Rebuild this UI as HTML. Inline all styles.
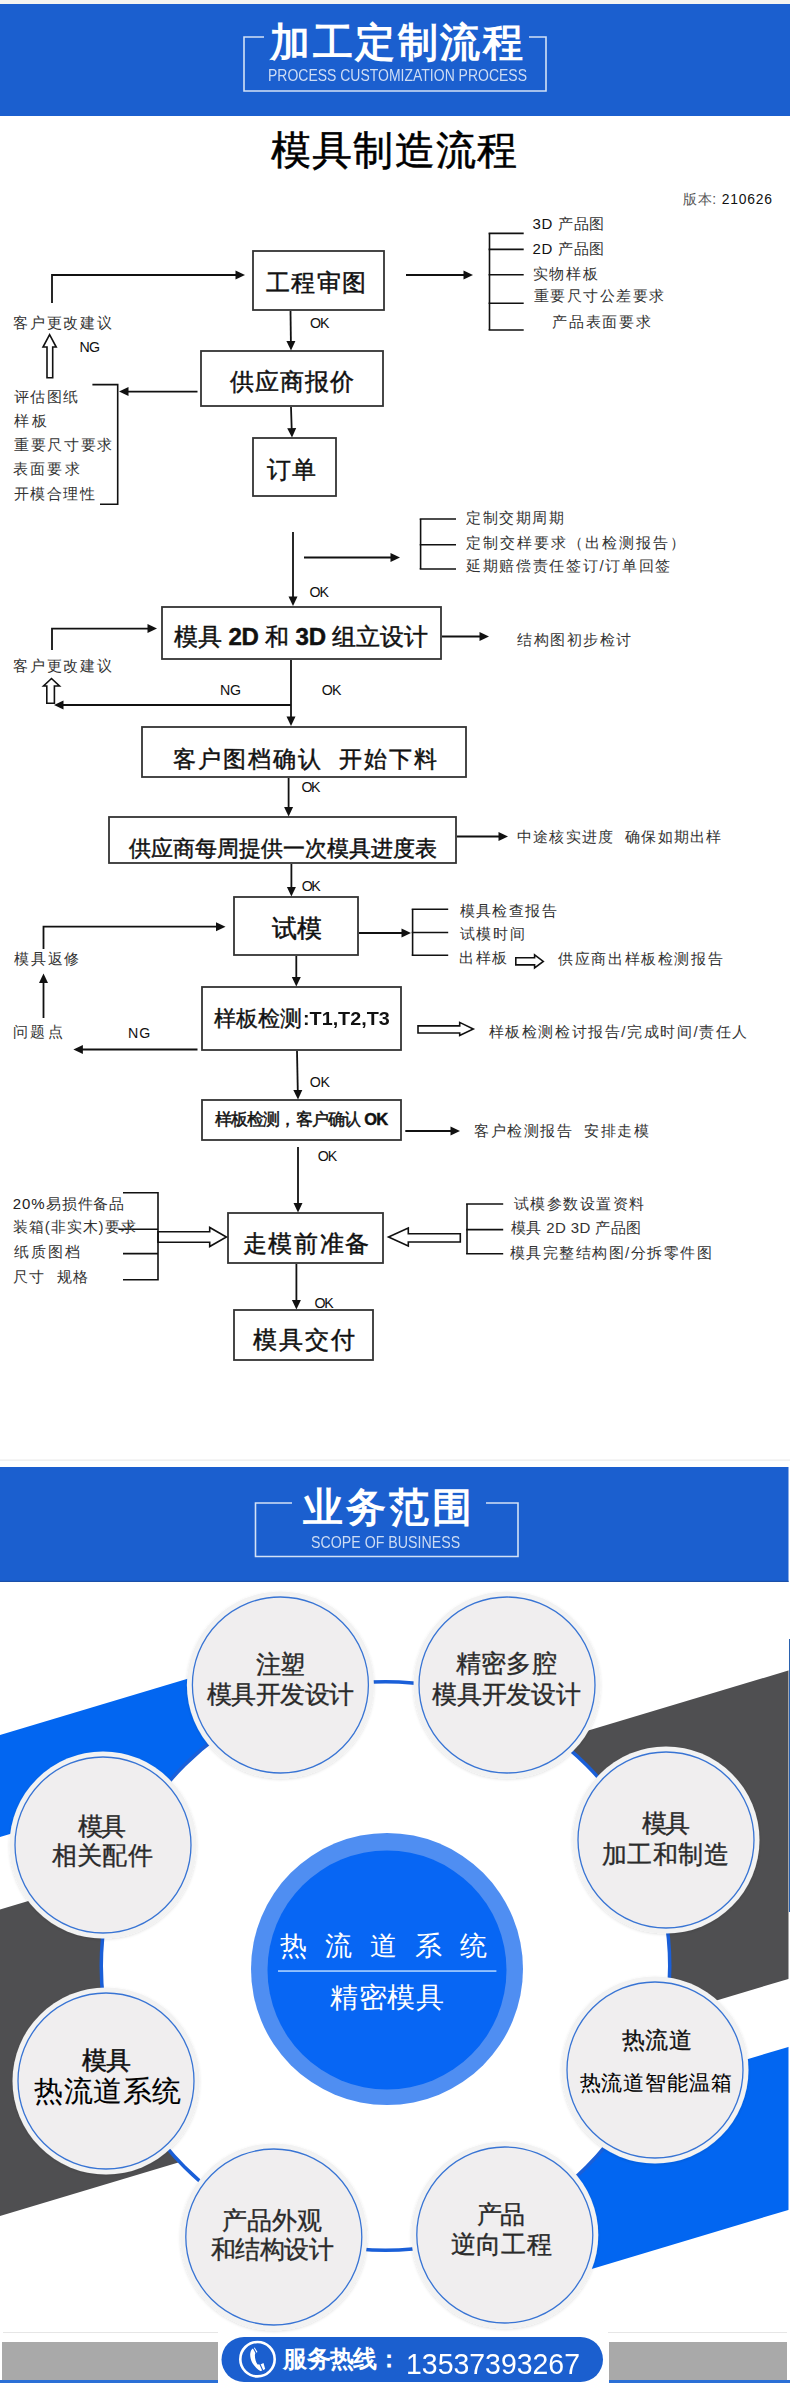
<!DOCTYPE html>
<html><head><meta charset="utf-8">
<style>
*{margin:0;padding:0;box-sizing:border-box}
html,body{width:790px;height:2383px;overflow:hidden;background:#fff}
body{position:relative;font-family:"Liberation Sans",sans-serif;color:#222}
.t{position:absolute;white-space:nowrap;line-height:1}
svg{position:absolute;left:0;top:0}
</style></head><body>
<svg width="790" height="2383" viewBox="0 0 790 2383">
<defs><filter id="sh" x="-20%" y="-20%" width="140%" height="140%"><feDropShadow dx="0" dy="1" stdDeviation="1.5" flood-color="#000" flood-opacity="0.12"/></filter></defs><rect x="0" y="0" width="790" height="4" fill="#f4f4f1"/>
<rect x="0" y="4" width="790" height="112" fill="#1b5fcf"/>
<path d="M264 37H244V91H546V37H529" fill="none" stroke="#d3e1f6" stroke-width="1.6"/>
<rect x="0" y="1459.5" width="790" height="1.2" fill="#ececec"/>
<rect x="0" y="1467" width="788.5" height="115" fill="#1b5fcf"/>
<path d="M292 1503H255.5V1556.5H518V1503H486" fill="none" stroke="#d3e1f6" stroke-width="1.6"/>
<rect x="253" y="251" width="131" height="59" fill="none" stroke="#333" stroke-width="1.8"/>
<rect x="201" y="351" width="182" height="55" fill="none" stroke="#333" stroke-width="1.8"/>
<rect x="253" y="438" width="83" height="58" fill="none" stroke="#333" stroke-width="1.8"/>
<rect x="162" y="607" width="279" height="52" fill="none" stroke="#333" stroke-width="1.8"/>
<rect x="142" y="727" width="324" height="50" fill="none" stroke="#333" stroke-width="1.8"/>
<rect x="109" y="817" width="347" height="46" fill="none" stroke="#333" stroke-width="1.8"/>
<rect x="234" y="897" width="124" height="58" fill="none" stroke="#333" stroke-width="1.8"/>
<rect x="202" y="987" width="199" height="63" fill="none" stroke="#333" stroke-width="1.8"/>
<rect x="202" y="1100" width="199" height="40" fill="none" stroke="#333" stroke-width="1.8"/>
<rect x="228" y="1213" width="155" height="50" fill="none" stroke="#333" stroke-width="1.8"/>
<rect x="234" y="1310" width="139" height="50" fill="none" stroke="#333" stroke-width="1.8"/>
<path d="M290.5 311.0 L290.9 342.0" fill="none" stroke="#111" stroke-width="1.8" stroke-linejoin="miter"/>
<path d="M291.0 350.5 L286.4 341.1 L295.4 340.9Z" fill="#111"/>
<path d="M291.0 407.0 L291.7 429.0" fill="none" stroke="#111" stroke-width="1.8" stroke-linejoin="miter"/>
<path d="M292.0 437.5 L287.2 428.2 L296.2 427.9Z" fill="#111"/>
<path d="M293.0 532.0 L293.0 597.5" fill="none" stroke="#111" stroke-width="1.8" stroke-linejoin="miter"/>
<path d="M293.0 606.0 L288.5 596.5 L297.5 596.5Z" fill="#111"/>
<path d="M304.0 557.5 L391.5 557.5" fill="none" stroke="#111" stroke-width="1.8" stroke-linejoin="miter"/>
<path d="M400.0 557.5 L390.5 562.0 L390.5 553.0Z" fill="#111"/>
<path d="M442.0 636.5 L480.5 636.5" fill="none" stroke="#111" stroke-width="1.8" stroke-linejoin="miter"/>
<path d="M489.0 636.5 L479.5 641.0 L479.5 632.0Z" fill="#111"/>
<path d="M291.0 660.0 L291.0 717.5" fill="none" stroke="#111" stroke-width="1.8" stroke-linejoin="miter"/>
<path d="M291.0 726.0 L286.5 716.5 L295.5 716.5Z" fill="#111"/>
<path d="M291.0 705.0 L62.5 705.0" fill="none" stroke="#111" stroke-width="1.8" stroke-linejoin="miter"/>
<path d="M54.0 705.0 L63.5 700.5 L63.5 709.5Z" fill="#111"/>
<path d="M288.6 778.0 L288.6 808.0" fill="none" stroke="#111" stroke-width="1.8" stroke-linejoin="miter"/>
<path d="M288.6 816.5 L284.1 807.0 L293.1 807.0Z" fill="#111"/>
<path d="M457.0 836.5 L499.5 836.5" fill="none" stroke="#111" stroke-width="1.8" stroke-linejoin="miter"/>
<path d="M508.0 836.5 L498.5 841.0 L498.5 832.0Z" fill="#111"/>
<path d="M291.4 864.0 L291.4 888.0" fill="none" stroke="#111" stroke-width="1.8" stroke-linejoin="miter"/>
<path d="M291.4 896.5 L286.9 887.0 L295.9 887.0Z" fill="#111"/>
<path d="M359.0 933.0 L402.5 933.0" fill="none" stroke="#111" stroke-width="1.8" stroke-linejoin="miter"/>
<path d="M411.0 933.0 L401.5 937.5 L401.5 928.5Z" fill="#111"/>
<path d="M296.3 956.0 L296.3 978.0" fill="none" stroke="#111" stroke-width="1.8" stroke-linejoin="miter"/>
<path d="M296.3 986.5 L291.8 977.0 L300.8 977.0Z" fill="#111"/>
<path d="M297.0 1051.0 L297.8 1091.0" fill="none" stroke="#111" stroke-width="1.8" stroke-linejoin="miter"/>
<path d="M298.0 1099.5 L293.3 1090.1 L302.3 1089.9Z" fill="#111"/>
<path d="M405.3 1131.0 L451.5 1131.0" fill="none" stroke="#111" stroke-width="1.8" stroke-linejoin="miter"/>
<path d="M460.0 1131.0 L450.5 1135.5 L450.5 1126.5Z" fill="#111"/>
<path d="M298.0 1147.0 L298.0 1204.0" fill="none" stroke="#111" stroke-width="1.8" stroke-linejoin="miter"/>
<path d="M298.0 1212.5 L293.5 1203.0 L302.5 1203.0Z" fill="#111"/>
<path d="M296.4 1264.0 L296.4 1301.0" fill="none" stroke="#111" stroke-width="1.8" stroke-linejoin="miter"/>
<path d="M296.4 1309.5 L291.9 1300.0 L300.9 1300.0Z" fill="#111"/>
<path d="M197.5 391.6 L127.5 391.6" fill="none" stroke="#111" stroke-width="1.8" stroke-linejoin="miter"/>
<path d="M119.0 391.6 L128.5 387.1 L128.5 396.1Z" fill="#111"/>
<path d="M406.0 275.0 L464.5 275.0" fill="none" stroke="#111" stroke-width="1.8" stroke-linejoin="miter"/>
<path d="M473.0 275.0 L463.5 279.5 L463.5 270.5Z" fill="#111"/>
<path d="M52.0 303.0 L52.0 275.0 L236.5 275.0" fill="none" stroke="#111" stroke-width="1.8" stroke-linejoin="miter"/>
<path d="M245.0 275.0 L235.5 279.5 L235.5 270.5Z" fill="#111"/>
<path d="M52.0 650.0 L52.0 628.6 L148.5 628.6" fill="none" stroke="#111" stroke-width="1.8" stroke-linejoin="miter"/>
<path d="M157.0 628.6 L147.5 633.1 L147.5 624.1Z" fill="#111"/>
<path d="M43.5 949.0 L43.5 926.7 L217.0 926.7" fill="none" stroke="#111" stroke-width="1.8" stroke-linejoin="miter"/>
<path d="M225.5 926.7 L216.0 931.2 L216.0 922.2Z" fill="#111"/>
<path d="M43.5 1018.0 L43.5 982.0" fill="none" stroke="#111" stroke-width="1.8" stroke-linejoin="miter"/>
<path d="M43.5 973.5 L48.0 983.0 L39.0 983.0Z" fill="#111"/>
<path d="M197.5 1049.5 L81.9 1049.5" fill="none" stroke="#111" stroke-width="1.8" stroke-linejoin="miter"/>
<path d="M73.4 1049.5 L82.9 1045.0 L82.9 1054.0Z" fill="#111"/>
<path d="M47 377.7 L47 347 L43 347 L49.6 334.7 L56.2 347 L52.7 347 L52.7 377.7Z" fill="#fff" stroke="#111" stroke-width="1.6" stroke-linejoin="miter"/>
<path d="M46.8 703.3 L46.8 686 L43.5 686 L51.5 678.5 L59.5 686 L54.4 686 L54.4 703.3Z" fill="#fff" stroke="#111" stroke-width="1.6" stroke-linejoin="miter"/>
<path d="M515.8 957.8 L534.6 957.8 L534.6 954.8 L543.3 961.4 L534.6 968 L534.6 964.9 L515.8 964.9Z" fill="#fff" stroke="#111" stroke-width="1.6" stroke-linejoin="miter"/>
<path d="M418 1025.9 L459.7 1025.9 L459.7 1022.4 L473.3 1028.95 L459.7 1035.5 L459.7 1033 L418 1033Z" fill="#fff" stroke="#111" stroke-width="1.6" stroke-linejoin="miter"/>
<path d="M158 1231.7 L209.7 1231.7 L209.7 1227.5 L226.4 1237.0 L209.7 1246.5 L209.7 1242.3 L158 1242.3Z" fill="#fff" stroke="#111" stroke-width="1.6" stroke-linejoin="miter"/>
<path d="M460.3 1233.8 L408.3 1233.8 L408.3 1228 L388.5 1237.0 L408.3 1246 L408.3 1242 L460.3 1242Z" fill="#fff" stroke="#111" stroke-width="1.6" stroke-linejoin="miter"/>
<path d="M489.5 233.4 L489.5 330.0" fill="none" stroke="#111" stroke-width="1.6" stroke-linejoin="miter"/>
<path d="M488.6 233.4 L523.7 233.4" fill="none" stroke="#111" stroke-width="1.6" stroke-linejoin="miter"/>
<path d="M488.6 249.4 L523.7 249.4" fill="none" stroke="#111" stroke-width="1.6" stroke-linejoin="miter"/>
<path d="M488.6 274.8 L523.7 274.8" fill="none" stroke="#111" stroke-width="1.6" stroke-linejoin="miter"/>
<path d="M488.6 303.3 L523.7 303.3" fill="none" stroke="#111" stroke-width="1.6" stroke-linejoin="miter"/>
<path d="M488.6 330.0 L523.7 330.0" fill="none" stroke="#111" stroke-width="1.6" stroke-linejoin="miter"/>
<path d="M92.4 384.6 L117.7 384.6 L117.7 504.3 L100.0 504.3" fill="none" stroke="#111" stroke-width="1.6" stroke-linejoin="miter"/>
<path d="M420.6 519.0 L420.6 569.0" fill="none" stroke="#111" stroke-width="1.6" stroke-linejoin="miter"/>
<path d="M419.7 519.0 L456.0 519.0" fill="none" stroke="#111" stroke-width="1.6" stroke-linejoin="miter"/>
<path d="M419.7 544.8 L456.0 544.8" fill="none" stroke="#111" stroke-width="1.6" stroke-linejoin="miter"/>
<path d="M419.7 569.0 L456.0 569.0" fill="none" stroke="#111" stroke-width="1.6" stroke-linejoin="miter"/>
<path d="M412.6 909.2 L412.6 955.2" fill="none" stroke="#111" stroke-width="1.6" stroke-linejoin="miter"/>
<path d="M411.7 909.2 L448.2 909.2" fill="none" stroke="#111" stroke-width="1.6" stroke-linejoin="miter"/>
<path d="M411.7 932.5 L448.2 932.5" fill="none" stroke="#111" stroke-width="1.6" stroke-linejoin="miter"/>
<path d="M411.7 955.2 L448.2 955.2" fill="none" stroke="#111" stroke-width="1.6" stroke-linejoin="miter"/>
<path d="M467.0 1204.0 L467.0 1253.7" fill="none" stroke="#111" stroke-width="1.6" stroke-linejoin="miter"/>
<path d="M466.1 1204.0 L503.2 1204.0" fill="none" stroke="#111" stroke-width="1.6" stroke-linejoin="miter"/>
<path d="M466.1 1229.6 L503.2 1229.6" fill="none" stroke="#111" stroke-width="1.6" stroke-linejoin="miter"/>
<path d="M466.1 1253.7 L503.2 1253.7" fill="none" stroke="#111" stroke-width="1.6" stroke-linejoin="miter"/>
<path d="M123.0 1192.8 L158.0 1192.8 L158.0 1279.7 L123.0 1279.7" fill="none" stroke="#111" stroke-width="1.6" stroke-linejoin="miter"/>
<path d="M118.5 1229.2 L158.0 1229.2" fill="none" stroke="#111" stroke-width="1.6" stroke-linejoin="miter"/>
<path d="M123.0 1253.6 L158.0 1253.6" fill="none" stroke="#111" stroke-width="1.6" stroke-linejoin="miter"/>
<path d="M0 1735.0 L330 1636.0 L330 1738.0 L0 1837.0Z" fill="#0266f1"/>
<path d="M520 1751.0 L790 1670.0 L790 1978.4 L520 2059.4Z" fill="#4f4f51"/>
<path d="M0 1909.5 L200 1849.5 L200 2156.0 L0 2216.0Z" fill="#4f4f51"/>
<path d="M560 2115.4 L790 2046.4 L790 2209.4 L560 2278.4Z" fill="#0266f1"/>
<circle cx="385.5" cy="1966" r="284.25" fill="#fff" stroke="#1a5fd8" stroke-width="3.5"/>
<circle cx="387" cy="1969" r="136" fill="#4f8ef2"/>
<circle cx="387" cy="1970" r="119.5" fill="#0766f4"/>
<rect x="278" y="1970.3" width="218.4" height="1.5" fill="#b5d8ff"/>
<circle cx="280.4" cy="1685" r="93.5" fill="#f2f2f2" filter="url(#sh)"/>
<circle cx="280.4" cy="1685" r="88" fill="#f0eeef" stroke="#3874d4" stroke-width="1.3"/>
<circle cx="507" cy="1685" r="93.5" fill="#f2f2f2" filter="url(#sh)"/>
<circle cx="507" cy="1685" r="88" fill="#f0eeef" stroke="#3874d4" stroke-width="1.3"/>
<circle cx="666" cy="1840" r="93.5" fill="#f2f2f2" filter="url(#sh)"/>
<circle cx="666" cy="1840" r="88" fill="#f0eeef" stroke="#3874d4" stroke-width="1.3"/>
<circle cx="655" cy="2070" r="93.5" fill="#f2f2f2" filter="url(#sh)"/>
<circle cx="655" cy="2070" r="88" fill="#f0eeef" stroke="#3874d4" stroke-width="1.3"/>
<circle cx="504.8" cy="2235" r="93.5" fill="#f2f2f2" filter="url(#sh)"/>
<circle cx="504.8" cy="2235" r="88" fill="#f0eeef" stroke="#3874d4" stroke-width="1.3"/>
<circle cx="273.8" cy="2237" r="93.5" fill="#f2f2f2" filter="url(#sh)"/>
<circle cx="273.8" cy="2237" r="88" fill="#f0eeef" stroke="#3874d4" stroke-width="1.3"/>
<circle cx="106" cy="2081" r="93.5" fill="#f2f2f2" filter="url(#sh)"/>
<circle cx="106" cy="2081" r="88" fill="#f0eeef" stroke="#3874d4" stroke-width="1.3"/>
<circle cx="103" cy="1845" r="93.5" fill="#f2f2f2" filter="url(#sh)"/>
<circle cx="103" cy="1845" r="88" fill="#f0eeef" stroke="#3874d4" stroke-width="1.3"/>
<rect x="788.5" y="1582" width="1.5" height="750" fill="#fff"/>
<rect x="789" y="1639" width="1" height="273" fill="#2a62b0"/>
<rect x="0" y="1580.8" width="788.5" height="1.2" fill="#1a50aa"/>
<rect x="3" y="2332" width="215" height="1" fill="#e6e6e6"/>
<rect x="608" y="2332" width="179" height="1" fill="#e6e6e6"/>
<rect x="2" y="2342" width="216" height="38" fill="#a9a9a9"/>
<rect x="609" y="2342" width="178" height="38" fill="#a9a9a9"/>
<rect x="0" y="2380" width="218" height="3" fill="#2a6fd6"/>
<rect x="609" y="2380" width="181" height="3" fill="#2a6fd6"/>
<rect x="221.5" y="2337" width="381.5" height="45" rx="22.5" fill="#1b5fcf"/>
<circle cx="257.5" cy="2359.2" r="17.2" fill="none" stroke="#fff" stroke-width="2.6"/>
<g transform="translate(257.5 2359.2)"><path d="M-2.85 -11.66 L0 -7.1 L-2.3 -5.7 C-3.2 -3 -2 2.5 0.1 5.3 L3.4 5.1 L6 3.7 L7.7 9.7 L5.4 11.1 L3.1 11.7 C1 11.6 -3.5 6.5 -5.4 3.4 C-7 0 -7.6 -3.4 -7.2 -6 C-6.9 -8 -6 -9.6 -5.42 -10.24 Z" fill="#fff"/><path d="M-4.6 -12 L-1.1 -5.4 M2.3 4.6 L5.4 11.6" stroke="#1b5fcf" stroke-width="1.1"/></g>
</svg>
<div class="t" style="left:270px;top:21.5px;font-size:40px;letter-spacing:2.6px;color:#fff;font-weight:bold">加工定制流程</div>
<div class="t" style="left:267.7px;top:67.6px;font-size:16.71px;letter-spacing:0px;color:#cddcf4;transform:scaleX(0.838);transform-origin:0 0">PROCESS CUSTOMIZATION PROCESS</div>
<div class="t" style="left:303.4px;top:1487.2px;font-size:40px;letter-spacing:2.87px;color:#fff;font-weight:bold">业务范围</div>
<div class="t" style="left:311.1px;top:1534.8px;font-size:15.86px;letter-spacing:0px;color:#cddcf4;transform:scaleX(0.8952);transform-origin:0 0">SCOPE OF BUSINESS</div>
<div class="t" style="left:271px;top:129.5px;font-size:40px;letter-spacing:1.2px;color:#000;-webkit-text-stroke:0.5px #000">模具制造流程</div>
<div class="t" style="left:682.7px;top:192.9px;font-size:13.89px;letter-spacing:0.82px;color:#555">版本: <span style='color:#111'>210626</span></div>
<div class="t" style="left:266px;top:271.0px;font-size:24px;letter-spacing:1.3px;color:#111;-webkit-text-stroke:0.45px #111">工程审图</div>
<div class="t" style="left:230px;top:370.1px;font-size:24px;letter-spacing:1.1px;color:#111;-webkit-text-stroke:0.45px #111">供应商报价</div>
<div class="t" style="left:267px;top:458.0px;font-size:24px;letter-spacing:0.6px;color:#111;-webkit-text-stroke:0.45px #111">订单</div>
<div class="t" style="left:174.4px;top:624.5px;font-size:24px;letter-spacing:-0.2px;color:#111;-webkit-text-stroke:0.45px #111">模具 <b>2D</b> 和 <b>3D</b> 组立设计</div>
<div class="t" style="left:173.4px;top:747.8px;font-size:23px;letter-spacing:1.86px;color:#111;-webkit-text-stroke:0.45px #111">客户图档确认&nbsp;&nbsp;开始下料</div>
<div class="t" style="left:129px;top:837.6px;font-size:22px;letter-spacing:0.01px;color:#111;-webkit-text-stroke:0.45px #111">供应商每周提供一次模具进度表</div>
<div class="t" style="left:272.4px;top:917.0px;font-size:24.5px;letter-spacing:0.03px;color:#111;-webkit-text-stroke:0.5px #111">试模</div>
<div class="t" style="left:214.1px;top:1008.6px;font-size:21.5px;letter-spacing:-0.04px;color:#111;-webkit-text-stroke:0.35px #111">样板检测</div>
<div class="t" style="left:302.7px;top:1009.1px;font-size:19px;letter-spacing:0px;color:#111;transform:scaleX(1.0395);transform-origin:0 0"><b>:T1,T2,T3</b></div>
<div class="t" style="left:214.7px;top:1111.2px;font-size:16.5px;letter-spacing:-0.81px;color:#111;-webkit-text-stroke:0.45px #111">样板检测，客户确认 <b>OK</b></div>
<div class="t" style="left:242.7px;top:1232.2px;font-size:24px;letter-spacing:1.69px;color:#111;-webkit-text-stroke:0.45px #111">走模前准备</div>
<div class="t" style="left:253px;top:1328.4px;font-size:24px;letter-spacing:1.87px;color:#111;-webkit-text-stroke:0.45px #111">模具交付</div>
<div class="t" style="left:13px;top:314.5px;font-size:15px;letter-spacing:1.79px;color:#333">客户更改建议</div>
<div class="t" style="left:79.5px;top:340.4px;font-size:14.2px;letter-spacing:-0.67px;color:#111">NG</div>
<div class="t" style="left:310px;top:316.0px;font-size:14.2px;letter-spacing:-1.12px;color:#111">OK</div>
<div class="t" style="left:14px;top:388.7px;font-size:15px;letter-spacing:1.41px;color:#333">评估图纸</div>
<div class="t" style="left:14px;top:412.7px;font-size:15px;letter-spacing:2.75px;color:#333">样板</div>
<div class="t" style="left:14px;top:436.8px;font-size:15px;letter-spacing:1.67px;color:#333">重要尺寸要求</div>
<div class="t" style="left:13px;top:461.1px;font-size:15px;letter-spacing:2.22px;color:#333">表面要求</div>
<div class="t" style="left:14px;top:485.6px;font-size:15px;letter-spacing:1.44px;color:#333">开模合理性</div>
<div class="t" style="left:532.6px;top:215.7px;font-size:15px;letter-spacing:0.64px;color:#333"><span style='color:#111'>3D</span> 产品图</div>
<div class="t" style="left:532.6px;top:240.5px;font-size:15px;letter-spacing:0.64px;color:#333"><span style='color:#111'>2D</span> 产品图</div>
<div class="t" style="left:532.6px;top:265.8px;font-size:15px;letter-spacing:1.89px;color:#333">实物样板</div>
<div class="t" style="left:533.6px;top:288.4px;font-size:15px;letter-spacing:1.55px;color:#333">重要尺寸公差要求</div>
<div class="t" style="left:552.3px;top:313.5px;font-size:15px;letter-spacing:1.72px;color:#333">产品表面要求</div>
<div class="t" style="left:466px;top:509.7px;font-size:15px;letter-spacing:1.5px;color:#333">定制交期周期</div>
<div class="t" style="left:466px;top:534.8px;font-size:15px;letter-spacing:2.01px;color:#333">定制交样要求（出检测报告）</div>
<div class="t" style="left:466px;top:558.1px;font-size:15px;letter-spacing:1.68px;color:#333">延期赔偿责任签订/订单回签</div>
<div class="t" style="left:309.5px;top:585.0px;font-size:14.2px;letter-spacing:-0.93px;color:#111">OK</div>
<div class="t" style="left:517.3px;top:632.4px;font-size:15px;letter-spacing:1.51px;color:#333">结构图初步检讨</div>
<div class="t" style="left:13px;top:657.9px;font-size:15px;letter-spacing:1.79px;color:#333">客户更改建议</div>
<div class="t" style="left:220px;top:683.4px;font-size:14.2px;letter-spacing:-0.17px;color:#111">NG</div>
<div class="t" style="left:321.8px;top:683.4px;font-size:14.2px;letter-spacing:-0.73px;color:#111">OK</div>
<div class="t" style="left:301.5px;top:780.4px;font-size:14.2px;letter-spacing:-1.52px;color:#111">OK</div>
<div class="t" style="left:516.9px;top:829.0px;font-size:15px;letter-spacing:1.24px;color:#333">中途核实进度&nbsp;&nbsp;确保如期出样</div>
<div class="t" style="left:301.8px;top:878.5px;font-size:14.2px;letter-spacing:-1.6px;color:#111">OK</div>
<div class="t" style="left:14px;top:951.0px;font-size:15px;letter-spacing:1.75px;color:#333">模具返修</div>
<div class="t" style="left:13px;top:1024.4px;font-size:15px;letter-spacing:2.44px;color:#333">问题点</div>
<div class="t" style="left:128px;top:1026.0px;font-size:14.2px;letter-spacing:1.03px;color:#111">NG</div>
<div class="t" style="left:459.7px;top:902.8px;font-size:15px;letter-spacing:1.39px;color:#333">模具检查报告</div>
<div class="t" style="left:459.7px;top:925.5px;font-size:15px;letter-spacing:1.8px;color:#333">试模时间</div>
<div class="t" style="left:458.7px;top:949.8px;font-size:15px;letter-spacing:1.84px;color:#333">出样板</div>
<div class="t" style="left:558.3px;top:950.9px;font-size:15px;letter-spacing:1.58px;color:#333">供应商出样板检测报告</div>
<div class="t" style="left:488.7px;top:1023.6px;font-size:15px;letter-spacing:1.58px;color:#333">样板检测检讨报告/完成时间/责任人</div>
<div class="t" style="left:309.8px;top:1074.8px;font-size:14.2px;letter-spacing:-0.33px;color:#111">OK</div>
<div class="t" style="left:474.3px;top:1122.6px;font-size:15px;letter-spacing:1.45px;color:#333">客户检测报告&nbsp;&nbsp;安排走模</div>
<div class="t" style="left:317.7px;top:1148.5px;font-size:14.2px;letter-spacing:-0.93px;color:#111">OK</div>
<div class="t" style="left:12.7px;top:1196.2px;font-size:15px;letter-spacing:0.96px;color:#333"><span style='color:#222'>20%</span>易损件备品</div>
<div class="t" style="left:12.7px;top:1219.3px;font-size:15px;letter-spacing:0.98px;color:#333">装箱(非实木)要求</div>
<div class="t" style="left:13.7px;top:1244.2px;font-size:15px;letter-spacing:2.01px;color:#333">纸质图档</div>
<div class="t" style="left:12.7px;top:1268.5px;font-size:15px;letter-spacing:1.39px;color:#333">尺寸&nbsp;&nbsp;规格</div>
<div class="t" style="left:314.5px;top:1295.6px;font-size:14.2px;letter-spacing:-1.22px;color:#111">OK</div>
<div class="t" style="left:513.8px;top:1195.5px;font-size:15px;letter-spacing:1.52px;color:#333">试模参数设置资料</div>
<div class="t" style="left:511px;top:1220.4px;font-size:15px;letter-spacing:0.38px;color:#333">模具 2D 3D 产品图</div>
<div class="t" style="left:509.6px;top:1245.2px;font-size:15px;letter-spacing:1.5px;color:#333">模具完整结构图/分拆零件图</div>
<div class="t" style="left:256px;top:1653.0px;font-size:24.5px;letter-spacing:-1.16px;color:#2a2a2a;-webkit-text-stroke:0.35px #2a2a2a">注塑</div>
<div class="t" style="left:206.6px;top:1683.3px;font-size:24.5px;letter-spacing:-0.42px;color:#2a2a2a;-webkit-text-stroke:0.35px #2a2a2a">模具开发设计</div>
<div class="t" style="left:456px;top:1651.8px;font-size:24.5px;letter-spacing:0.24px;color:#2a2a2a;-webkit-text-stroke:0.35px #2a2a2a">精密多腔</div>
<div class="t" style="left:431.6px;top:1682.8px;font-size:24.5px;letter-spacing:-0.04px;color:#2a2a2a;-webkit-text-stroke:0.35px #2a2a2a">模具开发设计</div>
<div class="t" style="left:642px;top:1812.1px;font-size:24.5px;letter-spacing:-2.39px;color:#2a2a2a;-webkit-text-stroke:0.35px #2a2a2a">模具</div>
<div class="t" style="left:602px;top:1843.2px;font-size:24.5px;letter-spacing:0.38px;color:#2a2a2a;-webkit-text-stroke:0.35px #2a2a2a">加工和制造</div>
<div class="t" style="left:621.6px;top:2029.0px;font-size:23px;letter-spacing:0.67px;color:#111;-webkit-text-stroke:0.3px #111">热流道</div>
<div class="t" style="left:579.5px;top:2072.5px;font-size:20.5px;letter-spacing:0.92px;color:#000;-webkit-text-stroke:0.1px #000">热流道智能温箱</div>
<div class="t" style="left:477px;top:2203.1px;font-size:24.5px;letter-spacing:-1.55px;color:#2a2a2a;-webkit-text-stroke:0.35px #2a2a2a">产品</div>
<div class="t" style="left:450.5px;top:2233.1px;font-size:24.5px;letter-spacing:0.37px;color:#2a2a2a;-webkit-text-stroke:0.35px #2a2a2a">逆向工程</div>
<div class="t" style="left:222px;top:2208.5px;font-size:24.5px;letter-spacing:-0.13px;color:#2a2a2a;-webkit-text-stroke:0.35px #2a2a2a">产品外观</div>
<div class="t" style="left:210.5px;top:2237.8px;font-size:24.5px;letter-spacing:-0.34px;color:#2a2a2a;-webkit-text-stroke:0.35px #2a2a2a">和结构设计</div>
<div class="t" style="left:81.6px;top:2049.0px;font-size:24.5px;letter-spacing:-1.09px;color:#111;-webkit-text-stroke:0.5px #111">模具</div>
<div class="t" style="left:34px;top:2076.9px;font-size:28.5px;letter-spacing:0.55px;color:#000;-webkit-text-stroke:0.1px #000">热流道系统</div>
<div class="t" style="left:77.5px;top:1814.8px;font-size:24.5px;letter-spacing:-1.89px;color:#2a2a2a;-webkit-text-stroke:0.35px #2a2a2a">模具</div>
<div class="t" style="left:52px;top:1844.2px;font-size:24.5px;letter-spacing:0.2px;color:#2a2a2a;-webkit-text-stroke:0.35px #2a2a2a">相关配件</div>
<div class="t" style="left:280px;top:1933.2px;font-size:27px;letter-spacing:18.09px;color:#fff">热流道系统</div>
<div class="t" style="left:330px;top:1984.0px;font-size:28px;letter-spacing:0.56px;color:#fff">精密模具</div>
<div class="t" style="left:283.2px;top:2347.1px;font-size:24px;letter-spacing:-0.6px;color:#fff;font-weight:bold">服务热线：</div>
<div class="t" style="left:406.0px;top:2350.1px;font-size:28.86px;letter-spacing:0px;color:#fff;transform:scaleX(0.9855);transform-origin:0 0">13537393267</div>
</body></html>
